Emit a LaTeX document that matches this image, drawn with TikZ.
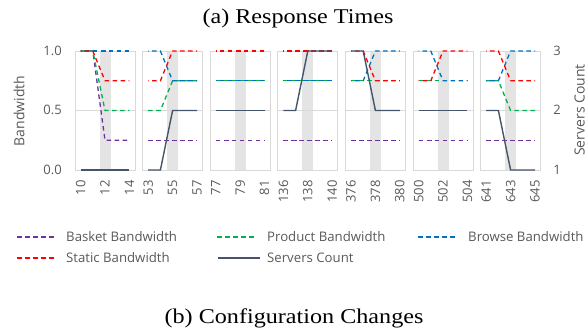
\documentclass[tikz,border=0pt]{standalone}
\usepackage{fontspec}
\setmainfont{Liberation Serif}
\newfontfamily\osans{Open Sans}
\definecolor{cbasket}{HTML}{7030A0}
\definecolor{cproduct}{HTML}{00B050}
\definecolor{cbrowse}{HTML}{0070C0}
\definecolor{cstatic}{HTML}{FF0000}
\definecolor{cserv}{HTML}{44546A}
\definecolor{gridgray}{HTML}{D9D9D9}
\definecolor{bandgray}{HTML}{E4E4E4}
\definecolor{txtgray}{HTML}{595959}
\tikzset{
  bw/.style={line width=1.3pt, dash pattern=on 4.5pt off 3.5pt},
  bwb/.style={bw, cbasket},
  bwp/.style={bw, cproduct},
  bwr/.style={bw, cbrowse, dash phase=4pt},
  bws/.style={bw, cstatic, dash phase=4pt},
  srv/.style={line width=1.4pt, cserv},
  gridln/.style={draw=gridgray, line width=0.8pt},
  ticklab/.style={font=\osans\fontsize{13}{13}\selectfont, text=txtgray, inner sep=0pt},
  leglab/.style={font=\osans\fontsize{13.2}{13.2}\selectfont, text=txtgray, inner sep=0pt, anchor=west},
  ttl/.style={font=\fontsize{21}{21}\selectfont, inner sep=0pt, anchor=base}
}
% style, cx, values, kind (b = bandwidth, s = servers)
\newcommand\plotseries[4]{%
  \gdef\pts{}%
  \foreach \v [count=\k from 0] in {#3}{%
    \pgfmathsetmacro\xx{#2+(\k-2)*12.2}%
    \if#4b\pgfmathsetmacro\yy{170-119*\v}\else\pgfmathsetmacro\yy{170-59.5*(\v-1)}\fi
    \ifnum\k=0 \xdef\pts{(\xx,\yy)}\else\xdef\pts{\pts -- (\xx,\yy)}\fi
  }%
  \draw[#1] \pts;
}
% cx, id, lab0, lab2, lab4, basket, product, browse, static
\newcommand\drawpanel[9]{%
  \fill[bandgray] ({#1-5.5},51) rectangle ({#1+5.5},170);
  \draw[gridln] ({#1-30},110) -- ({#1+30},110);
  \draw[gridln] ({#1-30},51) rectangle ({#1+30},170);
  \node[ticklab, rotate=90, anchor=east] (#2a) at ({#1-24.4},180) {#3};
  \node[ticklab, rotate=90, anchor=east] (#2b) at ({#1},180) {#4};
  \node[ticklab, rotate=90, anchor=east] (#2c) at ({#1+24.4},180) {#5};
  \plotseries{bwb}{#1}{#6}{b}%
  \plotseries{bwp}{#1}{#7}{b}%
  \plotseries{bwr}{#1}{#8}{b}%
  \plotseries{bws}{#1}{#9}{b}%
}
\begin{document}
\begin{tikzpicture}[x=1pt,y=-1pt]
\useasboundingbox (0,0) rectangle (588,328);
% titles
\node[ttl] (ta) at (298,24) {\scalebox{1.15}[1]{(a) Response Times}};
\node[ttl] (tb) at (294,323) {\scalebox{1.15}[1]{(b) Configuration Changes}};
% panels
\drawpanel{105}{p1}{10}{12}{14}{1,1,0.25,0.25,0.25}{1,1,0.5,0.5,0.5}{1,1,1,1,1}{1,1,0.75,0.75,0.75}
\plotseries{srv}{105}{1,1,1,1,1}{s}
\drawpanel{172.6}{p2}{53}{55}{57}{0.25,0.25,0.25,0.25,0.25}{0.5,0.5,0.75,0.75,0.75}{1,1,0.75,0.75,0.75}{0.75,0.75,1,1,1}
\plotseries{srv}{172.6}{1,1,2,2,2}{s}
\drawpanel{240.2}{p3}{77}{79}{81}{0.25,0.25,0.25,0.25,0.25}{0.75,0.75,0.75,0.75,0.75}{0.75,0.75,0.75,0.75,0.75}{1,1,1,1,1}
\plotseries{srv}{240.2}{2,2,2,2,2}{s}
\drawpanel{307.8}{p4}{136}{138}{140}{0.25,0.25,0.25,0.25,0.25}{0.75,0.75,0.75,0.75,0.75}{0.75,0.75,0.75,0.75,0.75}{1,1,1,1,1}
\plotseries{srv}{307.8}{2,2,3,3,3}{s}
\drawpanel{375.4}{p5}{376}{378}{380}{0.25,0.25,0.25,0.25,0.25}{0.75,0.75,0.75,0.75,0.75}{0.75,0.75,1,1,1}{1,1,0.75,0.75,0.75}
\plotseries{srv}{375.4}{3,3,2,2,2}{s}
\drawpanel{443}{p6}{500}{502}{504}{0.25,0.25,0.25,0.25,0.25}{0.75,0.75,0.75,0.75,0.75}{1,1,0.75,0.75,0.75}{0.75,0.75,1,1,1}
\plotseries{srv}{443}{2,2,2,2,2}{s}
\drawpanel{510.6}{p7}{641}{643}{645}{0.25,0.25,0.25,0.25,0.25}{0.75,0.75,0.5,0.5,0.5}{0.75,0.75,1,1,1}{1,1,0.75,0.75,0.75}
\plotseries{srv}{510.6}{2,2,1,1,1}{s}
% left axis
\node[ticklab, anchor=east] (l10) at (62,51) {1.0};
\node[ticklab, anchor=east] (l05) at (62,110) {0.5};
\node[ticklab, anchor=east] (l00) at (62,170) {0.0};
\node[ticklab, font=\osans\fontsize{14}{14}\selectfont, rotate=90] (ylab) at (19,111) {Bandwidth};
% right axis
\node[ticklab] (r3) at (557,51) {3};
\node[ticklab] (r2) at (557,110) {2};
\node[ticklab] (r1) at (557,170) {1};
\node[ticklab, font=\osans\fontsize{14}{14}\selectfont, rotate=90] (y2lab) at (579.5,110) {Servers Count};
% legend
\coordinate (lg1a) at (17,237); \coordinate (lg1b) at (55,237);
\coordinate (lg2a) at (217,237); \coordinate (lg2b) at (257,237);
\coordinate (lg3a) at (418,237); \coordinate (lg3b) at (457,237);
\coordinate (lg4a) at (17,258); \coordinate (lg4b) at (55,258);
\coordinate (lg5a) at (218,258); \coordinate (lg5b) at (260,258);
\draw[bwb] (lg1a) -- (lg1b);
\draw[bwp] (lg2a) -- (lg2b);
\draw[bw, cbrowse] (lg3a) -- (lg3b);
\draw[bw, cstatic] (lg4a) -- (lg4b);
\draw[srv] (lg5a) -- (lg5b);
\node[leglab] (t1) at (66,237) {Basket Bandwidth};
\node[leglab] (t2) at (267,237) {Product Bandwidth};
\node[leglab] (t3) at (468,237) {Browse Bandwidth};
\node[leglab] (t4) at (66,258) {Static Bandwidth};
\node[leglab] (t5) at (267,258) {Servers Count};
\end{tikzpicture}
\end{document}
